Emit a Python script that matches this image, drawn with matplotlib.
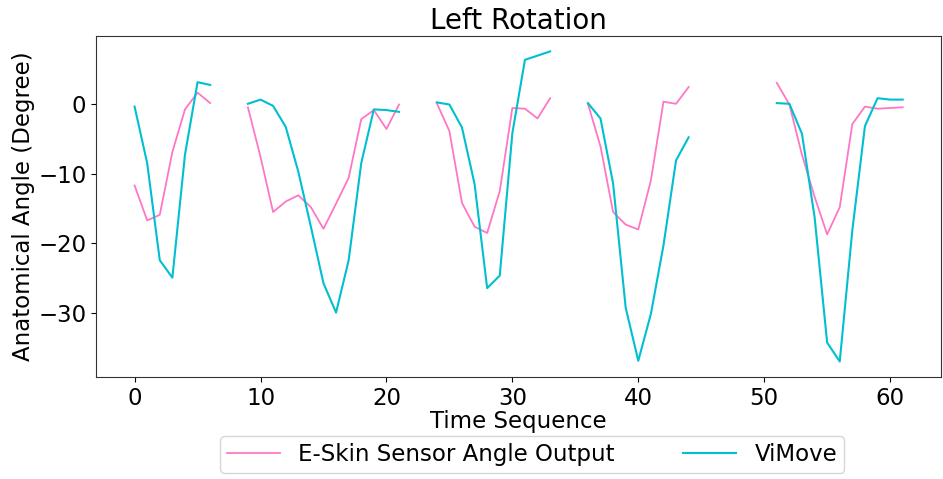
import numpy as np
import matplotlib
matplotlib.use("Agg")
import matplotlib.pyplot as plt

nan = np.nan
time = np.arange(62)

eskin = [-11.7, -16.7, -15.9, -6.9, -0.8, 1.6, 0.1, nan, nan,
         -0.5, -7.6, -15.5, -14.0, -13.1, -14.8, -17.9, -14.3, -10.6, -2.2, -0.9, -3.6, -0.1, nan, nan,
         0.1, -3.9, -14.2, -17.6, -18.5, -12.5, -0.6, -0.7, -2.1, 0.8, nan, nan,
         0.0, -6.1, -15.5, -17.3, -18.0, -11.0, 0.3, 0.0, 2.4, nan, nan, nan, nan, nan, nan,
         3.0, -0.1, -7.3, -13.3, -18.7, -14.8, -2.9, -0.4, -0.7, -0.6, -0.5]
vimove = [-0.4, -8.5, -22.4, -24.9, -7.3, 3.1, 2.7, nan, nan,
          0.0, 0.6, -0.3, -3.3, -9.7, -17.6, -25.7, -29.9, -22.4, -8.5, -0.8, -0.9, -1.15, nan, nan,
          0.2, -0.1, -3.4, -11.5, -26.4, -24.6, -4.2, 6.3, 6.9, 7.5, nan, nan,
          0.1, -2.1, -11.4, -29.2, -36.8, -30.1, -20.3, -8.1, -4.8, nan, nan, nan, nan, nan, nan,
          0.1, 0.0, -4.3, -16.2, -34.2, -36.9, -18.1, -3.2, 0.8, 0.6, 0.6]

fig = plt.figure(figsize=(9.43, 4.79), dpi=100)
ax = fig.add_axes([0.102, 0.213, 0.896, 0.712])
ax.plot(time, eskin, color='#ff77c4', lw=1.3, label='E-Skin Sensor Angle Output')
ax.plot(time, vimove, color='#00bfd0', lw=1.5, label='ViMove')
ax.set_title('Left Rotation', fontsize=20, pad=5)
ax.set_xlabel('Time Sequence', fontsize=16.5, labelpad=0)
ax.set_ylabel('Anatomical Angle (Degree)', fontsize=16.5, labelpad=2)
ax.tick_params(labelsize=16.5)
ax.set_xticks([0, 10, 20, 30, 40, 50, 60])
ax.set_yticks([0, -10, -20, -30])
for s in ax.spines.values():
    s.set_color('#333333')
ax.legend(loc='upper center', bbox_to_anchor=(0.516, -0.14), ncol=2, fontsize=16.5,
          frameon=True, handlelength=2.3, columnspacing=3.0, borderpad=0.3)
fig.savefig('out.png', dpi=100)
